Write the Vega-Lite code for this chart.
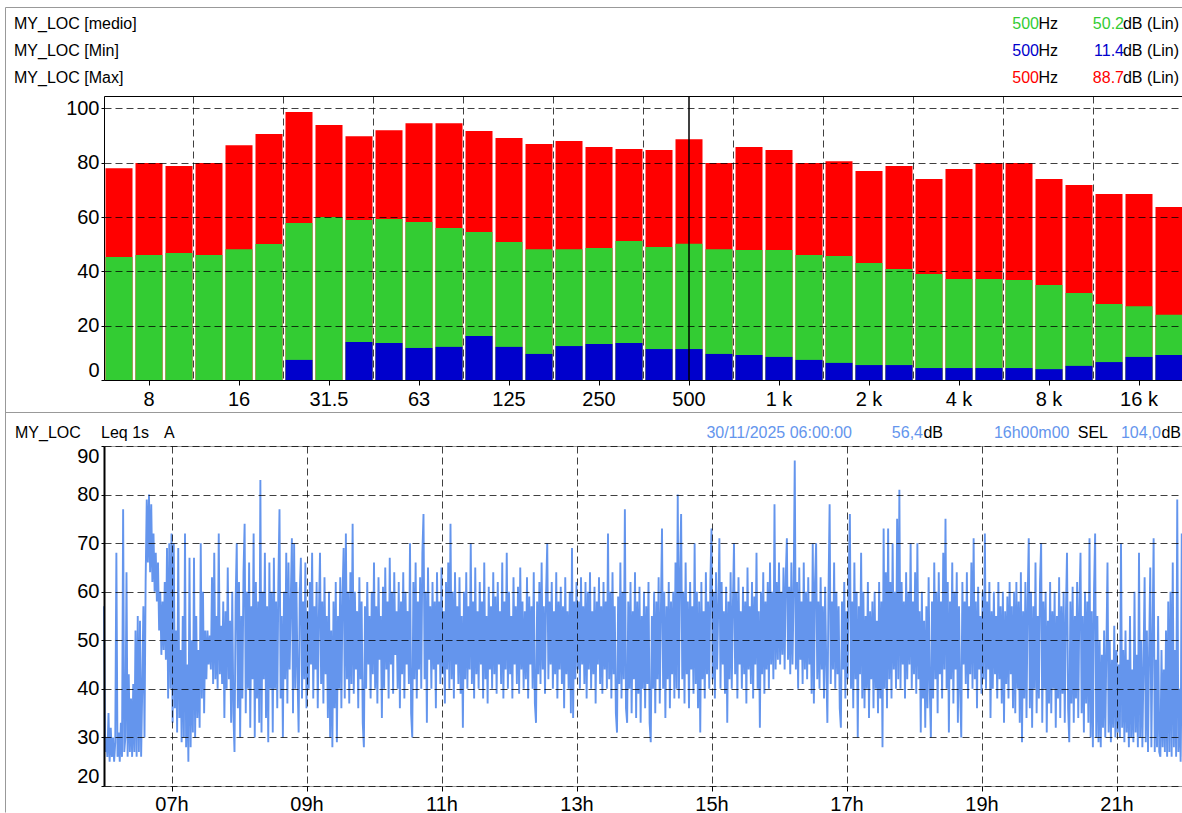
{
"$schema":"https://vega.github.io/schema/vega-lite/v6.json",
"padding":{"left":5,"top":7,"right":0,"bottom":0},
"spacing":0,
"bounds":"flush",
"config":{"font":"Liberation Sans","view":{"stroke":null},"axis":{"labelFont":"Liberation Sans","labelFontSize":20,"labelColor":"#000","tickColor":"#000","domainColor":"#000","gridColor":"#000","gridDash":[7,4],"gridOpacity":0.75,"gridWidth":1},"text":{"font":"Liberation Sans","fontSize":16}},
"datasets":{
"bands":[
{"f":"6.3","Max":78.0,"medio":45.3,"Min":0},
{"f":"8","Max":79.9,"medio":46.0,"Min":0},
{"f":"10","Max":78.8,"medio":46.8,"Min":0},
{"f":"12.5","Max":79.9,"medio":46.0,"Min":0},
{"f":"16","Max":86.5,"medio":48.2,"Min":0},
{"f":"20","Max":90.6,"medio":50.1,"Min":0},
{"f":"25","Max":98.7,"medio":57.8,"Min":7.4},
{"f":"31.5","Max":93.9,"medio":60.0,"Min":0},
{"f":"40","Max":89.8,"medio":58.9,"Min":14.0},
{"f":"50","Max":92.0,"medio":59.3,"Min":13.6},
{"f":"63","Max":94.6,"medio":58.2,"Min":11.8},
{"f":"80","Max":94.6,"medio":56.0,"Min":12.2},
{"f":"100","Max":91.7,"medio":54.5,"Min":16.2},
{"f":"125","Max":89.1,"medio":50.8,"Min":12.2},
{"f":"160","Max":86.9,"medio":48.2,"Min":9.6},
{"f":"200","Max":88.0,"medio":48.2,"Min":12.5},
{"f":"250","Max":85.8,"medio":48.6,"Min":13.3},
{"f":"315","Max":85.1,"medio":51.2,"Min":13.6},
{"f":"400","Max":84.7,"medio":49.0,"Min":11.4},
{"f":"500","Max":88.7,"medio":50.2,"Min":11.4},
{"f":"630","Max":79.9,"medio":48.2,"Min":9.6},
{"f":"800","Max":85.8,"medio":47.9,"Min":9.2},
{"f":"1 k","Max":84.7,"medio":47.9,"Min":8.5},
{"f":"1.25 k","Max":79.9,"medio":46.0,"Min":7.4},
{"f":"1.6 k","Max":80.6,"medio":45.7,"Min":6.3},
{"f":"2 k","Max":77.0,"medio":43.1,"Min":5.5},
{"f":"2.5 k","Max":78.8,"medio":40.9,"Min":5.5},
{"f":"3.15 k","Max":74.0,"medio":39.0,"Min":4.4},
{"f":"4 k","Max":77.7,"medio":37.2,"Min":4.4},
{"f":"5 k","Max":79.9,"medio":37.2,"Min":4.4},
{"f":"6.3 k","Max":79.9,"medio":36.8,"Min":4.4},
{"f":"8 k","Max":74.0,"medio":35.0,"Min":4.0},
{"f":"10 k","Max":71.8,"medio":32.0,"Min":5.2},
{"f":"12.5 k","Max":68.5,"medio":28.0,"Min":6.6},
{"f":"16 k","Max":68.5,"medio":27.2,"Min":8.5},
{"f":"20 k","Max":63.7,"medio":24.0,"Min":9.2}
],
"leq":[
{"m":0,"v":57},{"m":1,"v":27},{"m":2,"v":30},{"m":3,"v":26},{"m":4,"v":35},{"m":5,"v":25},{"m":6,"v":32},{"m":7,"v":26},{"m":8,"v":30},{"m":9,"v":25},{"m":10,"v":29},{"m":11,"v":68},{"m":12,"v":26},{"m":13,"v":31},{"m":14,"v":25},{"m":15,"v":33},{"m":16,"v":26},{"m":17,"v":77},{"m":18,"v":27},{"m":19,"v":30},{"m":20,"v":64},{"m":21,"v":26},{"m":22,"v":43},{"m":23,"v":27},{"m":24,"v":38},{"m":25,"v":26},{"m":26,"v":41},{"m":27,"v":27},{"m":28,"v":52},{"m":29,"v":26},{"m":30,"v":55},{"m":31,"v":27},{"m":32,"v":54},{"m":33,"v":26},{"m":34,"v":40},{"m":35,"v":57},{"m":36,"v":30},
{"m":37,"v":62},{"m":38,"v":79},{"m":39,"v":66},{"m":40,"v":80},{"m":41,"v":64},{"m":42,"v":78},{"m":43,"v":62},{"m":44,"v":72},{"m":45,"v":60},{"m":46,"v":68},{"m":47,"v":58},{"m":48,"v":66},{"m":49,"v":52},
{"m":50,"v":60},{"m":51,"v":47},{"m":52,"v":58},{"m":53,"v":48},{"m":54,"v":62},{"m":55,"v":46},{"m":56,"v":69},{"m":57,"v":38},{"m":58,"v":70},{"m":59,"v":40},{"m":60,"v":72},
{"m":61,"v":33},{"m":62,"v":70},{"m":63,"v":36},{"m":64,"v":52},{"m":65,"v":31},{"m":66,"v":69},{"m":67,"v":34},{"m":68,"v":48},{"m":69,"v":29},{"m":70,"v":55},{"m":71,"v":30},{"m":72,"v":72},{"m":73,"v":28},{"m":74,"v":45},{"m":75,"v":25},{"m":76,"v":67},{"m":77,"v":28},{"m":78,"v":50},{"m":79,"v":31},{"m":80,"v":67},{"m":81,"v":30},
{"m":82,"v":55},{"m":83,"v":34},{"m":84,"v":48},{"m":85,"v":32},{"m":86,"v":70},{"m":87,"v":38},{"m":88,"v":60},{"m":89,"v":35},{"m":90,"v":52},{"m":91,"v":42},{"m":92,"v":52},{"m":93,"v":45},{"m":94,"v":51},{"m":95,"v":44},{"m":96,"v":63},
{"m":97,"v":41},{"m":98,"v":68},{"m":99,"v":42},{"m":100,"v":55},{"m":101,"v":40},{"m":102,"v":72},{"m":103,"v":43},{"m":104,"v":53},{"m":105,"v":41},{"m":106,"v":58},{"m":107,"v":34},{"m":108,"v":56},{"m":109,"v":40},{"m":110,"v":65},{"m":111,"v":42},{"m":112,"v":54},{"m":113,"v":33},{"m":114,"v":60},
{"m":115,"v":35},{"m":116,"v":27},{"m":117,"v":58},{"m":118,"v":70},{"m":119,"v":36},{"m":120,"v":62},{"m":121,"v":30},{"m":122,"v":55},{"m":123,"v":38},{"m":124,"v":64},{"m":125,"v":74},{"m":126,"v":35},{"m":127,"v":60},{"m":128,"v":40},{"m":129,"v":66},{"m":130,"v":32},{"m":131,"v":57},{"m":132,"v":42},{"m":133,"v":72},{"m":134,"v":30},{"m":135,"v":62},{"m":136,"v":38},{"m":137,"v":58},{"m":138,"v":33},{"m":139,"v":83},{"m":140,"v":31},{"m":141,"v":60},{"m":142,"v":42},{"m":143,"v":68},{"m":144,"v":34},{"m":145,"v":57},{"m":146,"v":29},{"m":147,"v":66},{"m":148,"v":40},{"m":149,"v":60},
{"m":150,"v":31},{"m":151,"v":67},{"m":152,"v":40},{"m":153,"v":58},{"m":154,"v":36},{"m":155,"v":62},{"m":156,"v":77},{"m":157,"v":38},{"m":158,"v":55},{"m":159,"v":30},{"m":160,"v":60},{"m":161,"v":42},{"m":162,"v":68},{"m":163,"v":37},{"m":164,"v":66},{"m":165,"v":44},{"m":166,"v":58},{"m":167,"v":71},{"m":168,"v":35},{"m":169,"v":70},{"m":170,"v":40},{"m":171,"v":62},{"m":172,"v":43},{"m":173,"v":31},{"m":174,"v":60},{"m":175,"v":67},{"m":176,"v":38},{"m":177,"v":58},{"m":178,"v":42},{"m":179,"v":66},{"m":180,"v":36},
{"m":181,"v":56},{"m":182,"v":40},{"m":183,"v":62},{"m":184,"v":45},{"m":185,"v":68},{"m":186,"v":38},{"m":187,"v":57},{"m":188,"v":44},{"m":189,"v":62},{"m":190,"v":36},{"m":191,"v":55},{"m":192,"v":68},{"m":193,"v":41},{"m":194,"v":58},{"m":195,"v":37},{"m":196,"v":63},{"m":197,"v":43},{"m":198,"v":55},{"m":199,"v":34},{"m":200,"v":60},{"m":201,"v":30},{"m":202,"v":52},{"m":203,"v":28},{"m":204,"v":58},{"m":205,"v":36},{"m":206,"v":62},{"m":207,"v":29},{"m":208,"v":55},{"m":209,"v":40},{"m":210,"v":63},{"m":211,"v":36},{"m":212,"v":59},{"m":213,"v":69},{"m":214,"v":38},{"m":215,"v":72},{"m":216,"v":42},{"m":217,"v":60},{"m":218,"v":37},{"m":219,"v":64},{"m":220,"v":41},{"m":221,"v":74},{"m":222,"v":39},{"m":223,"v":60},{"m":224,"v":44},{"m":225,"v":56},{"m":226,"v":36},{"m":227,"v":63},{"m":228,"v":42},{"m":229,"v":58},{"m":230,"v":33},{"m":231,"v":28},{"m":232,"v":57},{"m":233,"v":40},{"m":234,"v":62},{"m":235,"v":45},{"m":236,"v":55},{"m":237,"v":38},{"m":238,"v":60},{"m":239,"v":43},{"m":240,"v":66},{"m":241,"v":40},{"m":242,"v":57},{"m":243,"v":37},{"m":244,"v":63},{"m":245,"v":46},{"m":246,"v":55},{"m":247,"v":34},
{"m":248,"v":61},{"m":249,"v":40},{"m":250,"v":65},{"m":251,"v":44},{"m":252,"v":58},{"m":253,"v":38},{"m":254,"v":67},{"m":255,"v":45},{"m":256,"v":60},{"m":257,"v":39},{"m":258,"v":64},{"m":259,"v":47},{"m":260,"v":56},{"m":261,"v":40},{"m":262,"v":62},{"m":263,"v":36},{"m":264,"v":58},{"m":265,"v":43},{"m":266,"v":64},{"m":267,"v":38},{"m":268,"v":60},{"m":269,"v":45},{"m":270,"v":56},{"m":271,"v":41},{"m":272,"v":70},{"m":273,"v":35},{"m":274,"v":30},{"m":275,"v":62},{"m":276,"v":42},{"m":277,"v":66},{"m":278,"v":38},{"m":279,"v":58},{"m":280,"v":44},{"m":281,"v":63},{"m":282,"v":40},{"m":283,"v":68},{"m":284,"v":76},{"m":285,"v":42},{"m":286,"v":60},{"m":287,"v":33},{"m":288,"v":65},{"m":289,"v":46},{"m":290,"v":57},{"m":291,"v":40},{"m":292,"v":62},{"m":293,"v":44},{"m":294,"v":58},{"m":295,"v":36},{"m":296,"v":64},{"m":297,"v":45},{"m":298,"v":58},{"m":299,"v":41},{"m":300,"v":65},{"m":301,"v":43},{"m":302,"v":56},{"m":303,"v":37},{"m":304,"v":62},{"m":305,"v":44},{"m":306,"v":66},{"m":307,"v":40},{"m":308,"v":74},{"m":309,"v":42},{"m":310,"v":60},{"m":311,"v":38},{"m":312,"v":64},{"m":313,"v":45},{"m":314,"v":57},{"m":315,"v":41},
{"m":316,"v":63},{"m":317,"v":39},{"m":318,"v":55},{"m":319,"v":32},{"m":320,"v":60},{"m":321,"v":42},{"m":322,"v":64},{"m":323,"v":40},{"m":324,"v":57},{"m":325,"v":44},{"m":326,"v":70},{"m":327,"v":41},{"m":328,"v":58},{"m":329,"v":38},{"m":330,"v":65},{"m":331,"v":43},{"m":332,"v":56},{"m":333,"v":40},{"m":334,"v":62},{"m":335,"v":45},{"m":336,"v":58},{"m":337,"v":38},{"m":338,"v":66},{"m":339,"v":42},{"m":340,"v":55},{"m":341,"v":37},{"m":342,"v":61},{"m":343,"v":44},{"m":344,"v":57},{"m":345,"v":40},{"m":346,"v":64},{"m":347,"v":43},{"m":348,"v":59},{"m":349,"v":39},{"m":350,"v":62},{"m":351,"v":45},{"m":352,"v":56},{"m":353,"v":41},{"m":354,"v":66},{"m":355,"v":38},{"m":356,"v":58},{"m":357,"v":44},{"m":358,"v":68},{"m":359,"v":40},{"m":360,"v":60},{"m":361,"v":43},{"m":362,"v":55},{"m":363,"v":38},{"m":364,"v":63},{"m":365,"v":45},{"m":366,"v":57},{"m":367,"v":41},{"m":368,"v":61},{"m":369,"v":39},{"m":370,"v":65},{"m":371,"v":44},{"m":372,"v":58},{"m":373,"v":40},{"m":374,"v":56},{"m":375,"v":42},{"m":376,"v":63},{"m":377,"v":38},{"m":378,"v":59},{"m":379,"v":45},{"m":380,"v":57},{"m":381,"v":40},{"m":382,"v":64},{"m":383,"v":37},{"m":384,"v":33},{"m":385,"v":58},{"m":386,"v":43},{"m":387,"v":62},{"m":388,"v":41},{"m":389,"v":66},{"m":390,"v":44},{"m":391,"v":57},{"m":392,"v":39},{"m":393,"v":60},{"m":394,"v":70},{"m":395,"v":42},{"m":396,"v":58},{"m":397,"v":45},{"m":398,"v":62},{"m":399,"v":40},{"m":400,"v":56},{"m":401,"v":43},{"m":402,"v":64},{"m":403,"v":38},{"m":404,"v":58},{"m":405,"v":44},{"m":406,"v":61},{"m":407,"v":41},{"m":408,"v":57},{"m":409,"v":36},{"m":410,"v":63},{"m":411,"v":43},{"m":412,"v":56},{"m":413,"v":40},{"m":414,"v":60},{"m":415,"v":35},{"m":416,"v":69},{"m":417,"v":34},{"m":418,"v":58},{"m":419,"v":42},{"m":420,"v":62},
{"m":421,"v":44},{"m":422,"v":58},{"m":423,"v":40},{"m":424,"v":63},{"m":425,"v":45},{"m":426,"v":57},{"m":427,"v":41},{"m":428,"v":62},{"m":429,"v":38},{"m":430,"v":60},{"m":431,"v":44},{"m":432,"v":64},{"m":433,"v":40},{"m":434,"v":56},{"m":435,"v":43},{"m":436,"v":61},{"m":437,"v":37},{"m":438,"v":58},{"m":439,"v":45},{"m":440,"v":63},{"m":441,"v":41},{"m":442,"v":57},{"m":443,"v":39},{"m":444,"v":62},{"m":445,"v":44},{"m":446,"v":58},{"m":447,"v":40},{"m":448,"v":72},{"m":449,"v":42},{"m":450,"v":60},{"m":451,"v":38},{"m":452,"v":64},{"m":453,"v":43},{"m":454,"v":57},{"m":455,"v":35},{"m":456,"v":31},{"m":457,"v":59},{"m":458,"v":41},{"m":459,"v":66},{"m":460,"v":38},{"m":461,"v":60},{"m":462,"v":42},{"m":463,"v":77},{"m":464,"v":36},{"m":465,"v":33},{"m":466,"v":58},{"m":467,"v":40},{"m":468,"v":62},{"m":469,"v":35},{"m":470,"v":56},{"m":471,"v":42},{"m":472,"v":64},{"m":473,"v":34},{"m":474,"v":58},{"m":475,"v":39},{"m":476,"v":61},{"m":477,"v":33},{"m":478,"v":55},{"m":479,"v":40},{"m":480,"v":60},{"m":481,"v":36},{"m":482,"v":57},{"m":483,"v":41},{"m":484,"v":62},{"m":485,"v":33},{"m":486,"v":29},{"m":487,"v":55},{"m":488,"v":40},{"m":489,"v":60},{"m":490,"v":35},{"m":491,"v":58},{"m":492,"v":42},{"m":493,"v":63},{"m":494,"v":37},{"m":495,"v":56},{"m":496,"v":73},{"m":497,"v":40},{"m":498,"v":60},{"m":499,"v":34},{"m":500,"v":57},{"m":501,"v":42},{"m":502,"v":62},{"m":503,"v":36},{"m":504,"v":58},{"m":505,"v":43},{"m":506,"v":60},{"m":507,"v":38},{"m":508,"v":66},{"m":509,"v":40},{"m":510,"v":80},{"m":511,"v":38},{"m":512,"v":64},{"m":513,"v":76},{"m":514,"v":42},{"m":515,"v":60},{"m":516,"v":37},{"m":517,"v":66},{"m":518,"v":43},{"m":519,"v":58},{"m":520,"v":36},{"m":521,"v":62},{"m":522,"v":44},{"m":523,"v":57},{"m":524,"v":39},{"m":525,"v":70},{"m":526,"v":41},{"m":527,"v":60},{"m":528,"v":36},{"m":529,"v":58},{"m":530,"v":31},{"m":531,"v":62},{"m":532,"v":42},{"m":533,"v":56},{"m":534,"v":38},{"m":535,"v":64},{"m":536,"v":43},{"m":537,"v":58},{"m":538,"v":40},{"m":539,"v":62},{"m":540,"v":73},
{"m":541,"v":42},{"m":542,"v":60},{"m":543,"v":38},{"m":544,"v":64},{"m":545,"v":44},{"m":546,"v":57},{"m":547,"v":71},{"m":548,"v":40},{"m":549,"v":62},{"m":550,"v":45},{"m":551,"v":56},{"m":552,"v":39},{"m":553,"v":61},{"m":554,"v":33},{"m":555,"v":58},{"m":556,"v":42},{"m":557,"v":64},{"m":558,"v":40},{"m":559,"v":57},{"m":560,"v":70},{"m":561,"v":43},{"m":562,"v":60},{"m":563,"v":38},{"m":564,"v":63},{"m":565,"v":45},{"m":566,"v":56},{"m":567,"v":40},{"m":568,"v":61},{"m":569,"v":43},{"m":570,"v":58},{"m":571,"v":37},{"m":572,"v":65},{"m":573,"v":44},{"m":574,"v":57},{"m":575,"v":41},{"m":576,"v":62},{"m":577,"v":38},{"m":578,"v":59},{"m":579,"v":45},{"m":580,"v":68},{"m":581,"v":40},{"m":582,"v":56},{"m":583,"v":32},{"m":584,"v":60},{"m":585,"v":43},{"m":586,"v":64},{"m":587,"v":39},{"m":588,"v":58},{"m":589,"v":44},{"m":590,"v":62},{"m":591,"v":40},{"m":592,"v":66},{"m":593,"v":45},{"m":594,"v":60},{"m":595,"v":42},{"m":596,"v":78},{"m":597,"v":44},{"m":598,"v":62},{"m":599,"v":46},{"m":600,"v":66},{"m":601,"v":45},{"m":602,"v":60},{"m":603,"v":47},{"m":604,"v":65},{"m":605,"v":44},{"m":606,"v":63},{"m":607,"v":71},{"m":608,"v":46},{"m":609,"v":61},{"m":610,"v":43},{"m":611,"v":66},{"m":612,"v":45},{"m":613,"v":60},{"m":614,"v":87},{"m":615,"v":44},{"m":616,"v":62},{"m":617,"v":40},{"m":618,"v":65},{"m":619,"v":46},{"m":620,"v":58},{"m":621,"v":41},{"m":622,"v":66},{"m":623,"v":44},{"m":624,"v":60},{"m":625,"v":42},{"m":626,"v":63},{"m":627,"v":45},{"m":628,"v":58},{"m":629,"v":39},{"m":630,"v":70},{"m":631,"v":37},{"m":632,"v":62},
{"m":633,"v":70},{"m":634,"v":42},{"m":635,"v":58},{"m":636,"v":40},{"m":637,"v":63},{"m":638,"v":44},{"m":639,"v":57},{"m":640,"v":38},{"m":641,"v":61},{"m":642,"v":45},{"m":643,"v":33},{"m":644,"v":60},{"m":645,"v":78},{"m":646,"v":41},{"m":647,"v":58},{"m":648,"v":44},{"m":649,"v":66},{"m":650,"v":40},{"m":651,"v":60},{"m":652,"v":43},{"m":653,"v":57},{"m":654,"v":36},{"m":655,"v":32},{"m":656,"v":58},{"m":657,"v":44},{"m":658,"v":62},{"m":659,"v":38},{"m":660,"v":56},{"m":661,"v":42},{"m":662,"v":64},{"m":663,"v":76},{"m":664,"v":40},{"m":665,"v":58},{"m":666,"v":36},{"m":667,"v":66},{"m":668,"v":42},{"m":669,"v":60},{"m":670,"v":30},{"m":671,"v":57},{"m":672,"v":43},{"m":673,"v":68},{"m":674,"v":38},{"m":675,"v":60},{"m":676,"v":36},{"m":677,"v":55},{"m":678,"v":40},{"m":679,"v":62},{"m":680,"v":34},{"m":681,"v":56},{"m":682,"v":42},{"m":683,"v":58},{"m":684,"v":36},{"m":685,"v":60},{"m":686,"v":40},{"m":687,"v":54},{"m":688,"v":35},{"m":689,"v":62},{"m":690,"v":38},{"m":691,"v":58},{"m":692,"v":28},{"m":693,"v":73},{"m":694,"v":40},{"m":695,"v":64},{"m":696,"v":36},{"m":697,"v":73},{"m":698,"v":42},{"m":699,"v":62},{"m":700,"v":38},{"m":701,"v":70},{"m":702,"v":44},{"m":703,"v":60},{"m":704,"v":40},{"m":705,"v":75},
{"m":706,"v":42},{"m":707,"v":81},{"m":708,"v":40},{"m":709,"v":62},{"m":710,"v":45},{"m":711,"v":58},{"m":712,"v":38},{"m":713,"v":64},{"m":714,"v":42},{"m":715,"v":60},{"m":716,"v":45},{"m":717,"v":70},{"m":718,"v":40},{"m":719,"v":58},{"m":720,"v":43},{"m":721,"v":64},{"m":722,"v":39},{"m":723,"v":70},{"m":724,"v":42},{"m":725,"v":56},{"m":726,"v":31},{"m":727,"v":60},{"m":728,"v":38},{"m":729,"v":54},{"m":730,"v":32},{"m":731,"v":57},{"m":732,"v":36},{"m":733,"v":63},{"m":734,"v":40},{"m":735,"v":30},{"m":736,"v":58},{"m":737,"v":38},{"m":738,"v":66},{"m":739,"v":42},{"m":740,"v":60},{"m":741,"v":35},{"m":742,"v":64},{"m":743,"v":43},{"m":744,"v":58},{"m":745,"v":38},{"m":746,"v":68},{"m":747,"v":44},{"m":748,"v":75},{"m":749,"v":40},{"m":750,"v":62},{"m":751,"v":31},{"m":752,"v":58},{"m":753,"v":42},{"m":754,"v":66},{"m":755,"v":37},{"m":756,"v":60},{"m":757,"v":44},{"m":758,"v":64},{"m":759,"v":33},{"m":760,"v":57},{"m":761,"v":40},{"m":762,"v":30},{"m":763,"v":62},{"m":764,"v":45},{"m":765,"v":58},{"m":766,"v":41},{"m":767,"v":64},{"m":768,"v":38},{"m":769,"v":57},{"m":770,"v":43},{"m":771,"v":66},{"m":772,"v":40},{"m":773,"v":71},{"m":774,"v":42},{"m":775,"v":58},{"m":776,"v":36},{"m":777,"v":61},{"m":778,"v":44},{"m":779,"v":55},{"m":780,"v":39},
{"m":781,"v":60},{"m":782,"v":42},{"m":783,"v":72},{"m":784,"v":40},{"m":785,"v":58},{"m":786,"v":44},{"m":787,"v":62},{"m":788,"v":34},{"m":789,"v":56},{"m":790,"v":40},{"m":791,"v":60},{"m":792,"v":43},{"m":793,"v":55},{"m":794,"v":38},{"m":795,"v":62},{"m":796,"v":42},{"m":797,"v":57},{"m":798,"v":37},{"m":799,"v":60},{"m":800,"v":33},{"m":801,"v":56},{"m":802,"v":41},{"m":803,"v":59},{"m":804,"v":38},{"m":805,"v":62},{"m":806,"v":43},{"m":807,"v":57},{"m":808,"v":36},{"m":809,"v":60},
{"m":810,"v":35},{"m":811,"v":62},{"m":812,"v":40},{"m":813,"v":58},{"m":814,"v":33},{"m":815,"v":64},{"m":816,"v":29},{"m":817,"v":56},{"m":818,"v":38},{"m":819,"v":62},{"m":820,"v":34},{"m":821,"v":58},{"m":822,"v":71},{"m":823,"v":36},{"m":824,"v":60},{"m":825,"v":32},{"m":826,"v":57},{"m":827,"v":40},{"m":828,"v":66},{"m":829,"v":35},{"m":830,"v":55},{"m":831,"v":38},{"m":832,"v":62},{"m":833,"v":70},{"m":834,"v":33},{"m":835,"v":58},{"m":836,"v":40},{"m":837,"v":60},{"m":838,"v":31},{"m":839,"v":54},{"m":840,"v":37},{"m":841,"v":62},{"m":842,"v":35},{"m":843,"v":56},{"m":844,"v":40},{"m":845,"v":60},{"m":846,"v":32},{"m":847,"v":55},{"m":848,"v":38},{"m":849,"v":63},{"m":850,"v":34},{"m":851,"v":57},{"m":852,"v":39},{"m":853,"v":60},{"m":854,"v":33},{"m":855,"v":55},{"m":856,"v":68},{"m":857,"v":36},{"m":858,"v":29},{"m":859,"v":58},{"m":860,"v":37},{"m":861,"v":61},{"m":862,"v":33},{"m":863,"v":55},{"m":864,"v":38},{"m":865,"v":62},{"m":866,"v":34},{"m":867,"v":57},{"m":868,"v":68},{"m":869,"v":35},{"m":870,"v":55},{"m":871,"v":31},{"m":872,"v":60},{"m":873,"v":37},{"m":874,"v":58},{"m":875,"v":33},{"m":876,"v":71},{"m":877,"v":30},{"m":878,"v":56},{"m":879,"v":28},{"m":880,"v":60},{"m":881,"v":72},{"m":882,"v":30},{"m":883,"v":55},
{"m":884,"v":29},{"m":885,"v":50},{"m":886,"v":28},{"m":887,"v":47},{"m":888,"v":32},{"m":889,"v":52},{"m":890,"v":30},{"m":891,"v":48},{"m":892,"v":66},{"m":893,"v":31},{"m":894,"v":50},{"m":895,"v":29},{"m":896,"v":46},{"m":897,"v":32},{"m":898,"v":53},{"m":899,"v":30},{"m":900,"v":48},
{"m":901,"v":31},{"m":902,"v":45},{"m":903,"v":30},{"m":904,"v":70},{"m":905,"v":32},{"m":906,"v":48},{"m":907,"v":29},{"m":908,"v":52},{"m":909,"v":31},{"m":910,"v":46},{"m":911,"v":28},{"m":912,"v":55},{"m":913,"v":30},{"m":914,"v":44},{"m":915,"v":29},{"m":916,"v":60},{"m":917,"v":31},{"m":918,"v":47},{"m":919,"v":28},{"m":920,"v":68},{"m":921,"v":30},{"m":922,"v":50},{"m":923,"v":28},{"m":924,"v":45},{"m":925,"v":63},{"m":926,"v":29},{"m":927,"v":52},{"m":928,"v":27},{"m":929,"v":48},{"m":930,"v":65},{"m":931,"v":28},{"m":932,"v":50},{"m":933,"v":71},{"m":934,"v":27},{"m":935,"v":46},{"m":936,"v":28},{"m":937,"v":55},{"m":938,"v":27},{"m":939,"v":26},{"m":940,"v":48},{"m":941,"v":28},{"m":942,"v":44},{"m":943,"v":27},{"m":944,"v":52},{"m":945,"v":26},{"m":946,"v":58},{"m":947,"v":27},{"m":948,"v":60},{"m":949,"v":26},{"m":950,"v":66},{"m":951,"v":28},{"m":952,"v":48},{"m":953,"v":26},{"m":954,"v":79},{"m":955,"v":27},{"m":956,"v":40},{"m":957,"v":25},{"m":958,"v":72},{"m":959,"v":26},{"m":960,"v":45}
]
},
"vconcat":[
{"width":1080,"height":86,
 "layer":[
  {"data":{"values":[{}]},"mark":{"type":"rule","color":"#999","strokeWidth":1},"encoding":{"x":{"value":-98.5},"x2":{"value":1078},"y":{"value":-2.5}}},
  {"data":{"values":[{}]},"mark":{"type":"rule","color":"#999","strokeWidth":1},"encoding":{"x":{"value":-98.5},"y":{"value":-2.5},"y2":{"value":802.5}}},
  {"data":{"name":"bands"},
   "transform":[{"filter":"datum.f == '500'"},{"fold":["medio","Min","Max"],"as":["s","v"]}],
   "encoding":{"y":{"field":"s","type":"nominal","scale":{"type":"band","domain":["medio","Min","Max"],"paddingInner":0,"paddingOuter":0.0926,"align":0},"axis":null}},
   "layer":[
    {"mark":{"type":"text","align":"left","baseline":"middle","dy":1,"x":-90,"color":"#000","fontSize":16,"text":{"expr":"'MY_LOC [' + datum.s + ']'"}}},
    {"mark":{"type":"text","align":"right","baseline":"middle","dy":1,"x":935,"fontSize":16},"encoding":{"text":{"field":"f","type":"nominal"},"color":{"field":"s","type":"nominal","scale":{"domain":["medio","Min","Max"],"range":["#33cc33","#0000cc","#ff0000"]},"legend":null}}},
    {"mark":{"type":"text","align":"right","baseline":"middle","dy":1,"x":954,"color":"#000","fontSize":16,"text":"Hz"}},
    {"mark":{"type":"text","align":"right","baseline":"middle","dy":1,"x":1020,"fontSize":16},"encoding":{"text":{"field":"v","type":"quantitative","format":".1f"},"color":{"field":"s","type":"nominal","scale":{"domain":["medio","Min","Max"],"range":["#33cc33","#0000cc","#ff0000"]},"legend":null}}},
    {"mark":{"type":"text","align":"right","baseline":"middle","dy":1,"x":1075,"color":"#000","fontSize":16,"text":"dB (Lin)"}}
   ]}
 ]},
{"width":1080,"height":284,"view":{"stroke":"#000"},
 "layer":[
  {"data":{"name":"bands"},
   "transform":[{"fold":["Max","medio","Min"],"as":["s","v"]}],
   "mark":{"type":"bar"},
   "encoding":{
    "x":{"field":"f","type":"nominal","sort":null,"scale":{"domain":["6.3","8","10","12.5","16","20","25","31.5","40","50","63","80","100","125","160","200","250","315","400","500","630","800","1 k","1.25 k","1.6 k","2 k","2.5 k","3.15 k","4 k","5 k","6.3 k","8 k","10 k","12.5 k","16 k","20 k"],"paddingInner":0.1,"paddingOuter":0.05},
     "axis":{"orient":"bottom","values":["8","16","31.5","63","125","250","500","1 k","2 k","4 k","8 k","16 k"],"labelAngle":0,"grid":false,"domain":false,"tickSize":5,"labelPadding":4,"title":null}},
    "y":{"field":"v","type":"quantitative","stack":null,"scale":{"domain":[0,104.6],"nice":false},"axis":{"values":[0,20,40,60,80,100],"grid":true,"zindex":1,"domain":false,"tickSize":3,"labelPadding":2,"labelFlush":true,"title":null}},
    "color":{"field":"s","type":"nominal","scale":{"domain":["medio","Min","Max"],"range":["#33cc33","#0000cc","#ff0000"]},"legend":null}
   }},
  {"data":{"name":"bands"},
   "transform":[{"filter":"datum.f == '500'"}],
   "mark":{"type":"rule","color":"#000","strokeWidth":1.5},
   "encoding":{"x":{"field":"f","type":"nominal","sort":null,"scale":{"domain":["6.3","8","10","12.5","16","20","25","31.5","40","50","63","80","100","125","160","200","250","315","400","500","630","800","1 k","1.25 k","1.6 k","2 k","2.5 k","3.15 k","4 k","5 k","6.3 k","8 k","10 k","12.5 k","16 k","20 k"],"paddingInner":0.1,"paddingOuter":0.05},
    "axis":{"orient":"top","values":["12.5","25","50","100","200","400","800","1.6 k","3.15 k","6.3 k","12.5 k"],"bandPosition":-0.056,"grid":true,"zindex":1,"labels":false,"ticks":false,"domain":false,"title":null}}}}
 ],
 "resolve":{"axis":{"x":"independent"}}
},
{"width":1080,"height":66,
 "data":{"values":[{}]},
 "layer":[
  {"mark":{"type":"rule","color":"#999","strokeWidth":1},"encoding":{"x":{"value":-98.5},"x2":{"value":1078},"y":{"value":32.5}}},
  {"mark":{"type":"text","align":"left","baseline":"alphabetic","x":-89,"y":57.5,"fontSize":16,"color":"#000","text":"MY_LOC"}},
  {"mark":{"type":"text","align":"left","baseline":"alphabetic","x":-3,"y":57.5,"fontSize":16,"color":"#000","text":"Leq 1s"}},
  {"mark":{"type":"text","align":"left","baseline":"alphabetic","x":60,"y":57.5,"fontSize":16,"color":"#000","text":"A"}},
  {"mark":{"type":"text","align":"right","baseline":"alphabetic","x":748,"y":57.5,"fontSize":16,"color":"#6495ed","text":"30/11/2025 06:00:00"}},
  {"mark":{"type":"text","align":"right","baseline":"alphabetic","x":819,"y":57.5,"fontSize":16,"color":"#6495ed","text":"56,4"}},
  {"mark":{"type":"text","align":"right","baseline":"alphabetic","x":839,"y":57.5,"fontSize":16,"color":"#000","text":"dB"}},
  {"mark":{"type":"text","align":"right","baseline":"alphabetic","x":965.5,"y":57.5,"fontSize":16,"color":"#6495ed","text":"16h00m00"}},
  {"mark":{"type":"text","align":"right","baseline":"alphabetic","x":1004,"y":57.5,"fontSize":16,"color":"#000","text":"SEL"}},
  {"mark":{"type":"text","align":"right","baseline":"alphabetic","x":1057,"y":57.5,"fontSize":16,"color":"#6495ed","text":"104,0"}},
  {"mark":{"type":"text","align":"right","baseline":"alphabetic","x":1077,"y":57.5,"fontSize":16,"color":"#000","text":"dB"}}
 ]},
{"width":1080,"height":340,"view":{"stroke":"#999"},
 "data":{"name":"leq"},
 "mark":{"type":"line","color":"#6495ed","strokeWidth":1.9},
 "encoding":{
  "x":{"field":"m","type":"quantitative","scale":{"domain":[0,960],"nice":false,"zero":false},"axis":{"values":[60,180,300,420,540,660,780,900],"labelExpr":"(floor(datum.value/60)+6 < 10 ? '0' : '') + (floor(datum.value/60)+6) + 'h'","grid":true,"zindex":1,"domain":false,"tickSize":5,"labelPadding":3,"labelFlush":false,"title":null}},
  "y":{"field":"v","type":"quantitative","scale":{"domain":[20,90],"nice":false,"zero":false},"axis":{"values":[20,30,40,50,60,70,80,90],"grid":true,"zindex":1,"domain":true,"domainWidth":2,"tickSize":3,"labelPadding":2,"labelFlush":true,"title":null}}
 }}
]
}
